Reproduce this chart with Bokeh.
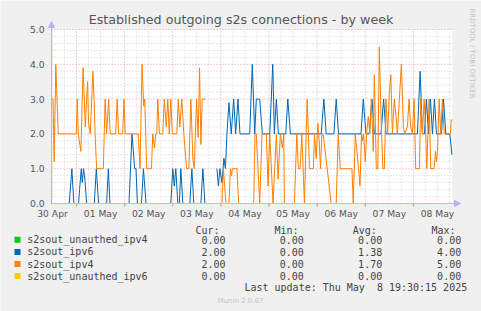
import math
from bokeh.plotting import figure
from bokeh.models import Range1d, Arrow, NormalHead
from bokeh.core.properties import value
from bokeh.embed import file_html
from bokeh.resources import INLINE

# ---------------- data ----------------
title_text = "Established outgoing s2s connections - by week"
series_names = ["s2sout_unauthed_ipv4", "s2sout_ipv6", "s2sout_ipv4", "s2sout_unauthed_ipv6"]
series_colors = ["#00CC00", "#0066B3", "#FF8000", "#FFCC00"]
cur_vals = [0.00, 2.00, 2.00, 0.00]
min_vals = [0.00, 0.00, 0.00, 0.00]
avg_vals = [0.00, 1.38, 1.70, 0.00]
max_vals = [0.00, 4.00, 5.00, 0.00]
stat_headers = ["Cur:", "Min:", "Avg:", "Max:"]
last_update = "Last update: Thu May \u00a08 19:30:15 2025"
side_text = "RRDTOOL / TOBI OETIKER"
footer_text = "Munin 2.0.67"

# time axis: hours since 30 Apr 00:00
x_start_h = 11.5
x_end_h = 211.5
y_min, y_max = 0, 5
day_label_hours = [12, 36, 60, 84, 108, 132, 156, 180, 204]
day_labels = ["30 Apr", "01 May", "02 May", "03 May", "04 May", "05 May", "06 May", "07 May", "08 May"]
y_ticks = [0, 1, 2, 3, 4, 5]
y_tick_labels = ["0.0", "1.0", "2.0", "3.0", "4.0", "5.0"]

NaN = float("nan")

ipv4_hours = [11.5, 12.25, 12.85, 13.65, 14.85, 23.85, 24.35, 24.85, 26.15, 27.25, 27.85, 28.35, 29.0, 29.5,
              30.0, 30.85, 32.15, 32.75, 33.25, 34.0, 37.35, 38.25, 39.0, 40.0, 40.75, 43.5, 44.25, 45.0,
              47.0, 47.65, 48.25, 54.75, 55.65, 56.65, 57.5, 58.0, 59.0, 61.35, 62.0, 62.85, 63.5, 64.0,
              64.5, 65.35, 67.0, 67.75, 68.75, 69.5, 70.25, 71.0, 71.75, 74.0, 74.75, 75.5, 76.5, 77.5,
              78.85, 80.0, 81.0, 82.0, 82.65, 83.85, 84.65, 85.35, 86.0, 86.65, 88.35, 91.0,
              94.0, 96.5, 97.25, 97.75, 98.5, 100.0, 100.75, 101.25, 101.75, 104.0, 104.85, 112.35, 113.0,
              113.65, 115.35, 116.5, 118.65, 119.5, 120.35, 122.0, 123.65, 124.5, 125.65, 126.65, 127.35,
              127.65, 132.65, 133.85, 134.65, 135.5, 136.35, 137.65, 139.0, 139.65, 140.15, 142.15, 142.65,
              143.5, 144.35, 145.0, 145.65, 146.35, 147.0, 151.0, 153.5, 154.5, 155.5, 161.35, 162.0, 163.0,
              163.85, 164.65, 165.35, 166.15, 166.65, 167.15, 168.0, 168.65, 169.5, 170.25, 171.0, 172.0,
              172.5, 173.5, 174.25, 175.0, 175.85, 176.75, 177.5, 178.35, 179.15, 180.0, 180.75, 181.5,
              182.5, 183.35, 184.0, 185.0, 186.0, 187.0, 187.65, 189.0, 189.85, 190.65, 191.5, 192.35,
              193.15, 195.0, 195.65, 196.5, 197.35, 198.0, 198.65, 199.85, 200.65, 202.35, 203.0, 203.5,
              204.0, 204.85, 205.65, 206.5, 207.35, 210.5, 210.85, 211.5]
ipv4_values = [3, 3, 1.2, 4, 2, 2, 3, 2, 1.5, 3.9, 3, 2.2, 3, 3.5,
               2.3, 2, 3.8, 3, 2, 1, 1, 3, 2, 3, 2, 2, 3, 2,
               2, 3, 2, 2, 1, 4, 2.8, 3, 1, 1, 2, 1.6, 2, 2,
               3, 2, 2, 3, 2.2, 3, 2, 3, 2, 2, 3, 2.2, 3, 2,
               1, 1, 3, 1.3, 1, 3, 1.9, 3.9, 1.7, 3, 3, NaN,
               0, 0, 1, 0.6, 0, 0, 1, 0.8, 1, 1, 0, 0, 2,
               2, 0, 2, 2, 0.5, 2, 0, 2, 0.7, 2, 1.6, 2,
               0, 0, 2, 1, 1, 2, 0, 3, 2, 1, 1, 2,
               1.3, 2.3, 1.8, 1, 2, 2, 0, 0, 2, 1, 1, 0, 2,
               1.5, 1, 0.5, 2, 1.8, 2, 1.2, 2, 2.5, 2, 3, 1.5,
               3.7, 1, 1, 4.5, 2.5, 1, 1, 3, 2, 3.2, 3.7, 2,
               3, 2.5, 2, 3, 4, 2.2, 2, 2.2, 3, 2.2, 2, 3,
               1, 1, 3, 2, 3, 2.3, 1, 3, 1, 1, 1.5, 1.2,
               1.5, 3, 2, 3, 2, 2, 2.4, 2.4]

ipv6_hours = [11.5, 20.35, 21.65, 22.65, 25.0, 25.5, 26.35, 26.85, 27.5, 28.15, 29.0, 32.85, 33.85, 35.0,
              39.0, 39.85, 40.65, 50.15, 51.65, 53.0, 53.65, 54.35, 56.35, 57.35, 58.65, 71.0, 72.0, 72.75,
              73.5, 74.5, 75.25, 76.0, 77.0, 80.5, 81.5, 82.5, 86.0, 87.0, 88.0, 91.0,
              94.0, 94.75, 95.5, 96.5, 97.5, 98.25, 99.0, 100.0, 101.15, 102.35, 103.35, 104.5, 105.5,
              110.35, 111.65, 112.85, 113.65, 115.35, 116.65, 120.35, 121.85, 122.65, 123.65, 124.65,
              128.35, 129.35, 130.65, 146.0, 147.35, 148.5, 152.35, 153.5, 154.65, 165.85, 167.0, 168.35,
              170.0, 171.35, 172.5, 175.85, 177.15, 178.35, 194.0, 195.35, 196.5, 197.5, 198.5, 199.5,
              200.5, 201.5, 202.5, 203.5, 206.0, 207.0, 208.15, 210.15, 211.25]
ipv6_values = [0, 0, 1, 0, 0, 0.4, 1, 0.6, 1, 0.7, 0, 0, 1, 0,
               0, 1, 0, 0, 2, 1, 1, 0, 0, 1, 0, 0, 1, 0.5,
               1, 0, 0, 1, 0, 0, 1, 0, 0, 1, 0, NaN,
               1, 0.5, 1, 0.6, 1.3, 1, 2, 2.9, 2, 3, 2, 3, 2,
               2, 4, 2, 3, 3, 2, 2, 4, 2, 3, 2,
               2, 3, 2, 2, 3, 2, 2, 3, 2, 2, 3, 2,
               2, 3, 2, 2, 3, 2, 2, 3.8, 2, 2, 3, 2,
               3, 2, 3, 2, 2, 3, 2, 2, 1.4]

unauthed_hours = [11.5, 211.5]
unauthed_ipv4_values = [0, 0]
unauthed_ipv6_values = [0, 0]

# ---------------- layout geometry (canvas pixels) ----------------
W, H = 481, 311
PLOT_L, PLOT_R, PLOT_T, PLOT_B = 51, 452, 29, 203
px_per_h = (PLOT_R - PLOT_L) / (x_end_h - x_start_h)
px_per_unit = (PLOT_B - PLOT_T) / (y_max - y_min)


def hx(X):
    """canvas x pixel -> data x"""
    return x_start_h + (X - PLOT_L) / px_per_h


def vy(Y):
    """canvas y pixel (from top) -> data y"""
    return y_min + (PLOT_B - Y) / px_per_unit


p = figure(width=W, height=H, output_backend="svg", toolbar_location=None,
           x_range=Range1d(hx(0), hx(W)), y_range=Range1d(vy(H), vy(0)),
           x_axis_location=None, y_axis_location=None, min_border=0)
p.background_fill_color = "#F0F0F0"
p.border_fill_color = "#F0F0F0"
p.outline_line_color = None
p.grid.visible = False

axis_color = "#B4B4F0"
text_color = "#555555"
legend_color = "#444444"
major_grid = "#E4A0A0"
minor_grid = "#D2D2D2"

# plot area
p.quad(left=[x_start_h], right=[x_end_h], bottom=[y_min], top=[y_max], fill_color="white", line_color=None)

# grid
midnights = [24 * k for k in range(1, 9)]
six_hours = [h for h in range(12, 212, 6) if h % 24 != 0]
y_minor = [round(0.2 * k, 1) for k in range(1, 25) if k % 5 != 0]
y_major = [1, 2, 3, 4, 5]
p.segment(x0=six_hours, x1=six_hours, y0=[y_min] * len(six_hours), y1=[y_max] * len(six_hours),
          line_color=minor_grid, line_dash="1 2", line_width=1)
p.segment(x0=[x_start_h] * len(y_minor), x1=[x_end_h] * len(y_minor), y0=y_minor, y1=y_minor,
          line_color=minor_grid, line_dash="1 2", line_width=1)
p.segment(x0=midnights, x1=midnights, y0=[y_min] * len(midnights), y1=[y_max] * len(midnights),
          line_color=major_grid, line_dash="1 2", line_width=1)
p.segment(x0=[x_start_h] * len(y_major), x1=[x_end_h] * len(y_major), y0=y_major, y1=y_major,
          line_color=major_grid, line_dash="1 2", line_width=1)

# axes lines and arrows
p.segment(x0=[x_start_h, x_start_h], x1=[x_start_h, x_end_h], y0=[y_min, y_min], y1=[y_max, y_min],
          line_color=axis_color, line_width=1)
p.add_layout(Arrow(end=NormalHead(size=6, fill_color=axis_color, line_color=axis_color),
                   x_start=x_start_h, y_start=y_max, x_end=x_start_h, y_end=vy(PLOT_T - 8),
                   line_color=axis_color, line_width=1))
p.add_layout(Arrow(end=NormalHead(size=6, fill_color=axis_color, line_color=axis_color),
                   x_start=x_end_h, y_start=y_min, x_end=hx(PLOT_R + 8), y_end=y_min,
                   line_color=axis_color, line_width=1))
# small red day ticks below the axis
p.segment(x0=midnights, x1=midnights, y0=[y_min] * len(midnights), y1=[vy(PLOT_B + 3)] * len(midnights),
          line_color="#E08080", line_width=1)

# tick labels
p.text(x=day_label_hours, y=[y_min] * len(day_labels), text=day_labels, y_offset=10,
       text_align="center", text_baseline="middle", text_color=text_color,
       text_font=value("DejaVu Sans"), text_font_size="9.2px")
p.text(x=[x_start_h] * len(y_ticks), y=y_ticks, text=y_tick_labels, x_offset=-7,
       text_align="right", text_baseline="middle", text_color=text_color,
       text_font=value("DejaVu Sans"), text_font_size="9.2px")

# series lines (munin drawing order)
p.line(unauthed_hours, unauthed_ipv4_values, line_color=series_colors[0], line_width=1)
p.line(ipv6_hours, ipv6_values, line_color=series_colors[1], line_width=1)
p.line(ipv4_hours, ipv4_values, line_color=series_colors[2], line_width=1)
p.line(unauthed_hours, unauthed_ipv6_values, line_color=series_colors[3], line_width=1)


def add_text(X, Y, text, size, font="DejaVu Sans", color=text_color, align="left", angle=0.0):
    p.text(x=[hx(X)], y=[vy(Y)], text=[text], text_font=value(font), text_font_size=size,
           text_color=color, text_align=align, text_baseline="middle", angle=angle)


add_text(240.5, 19, title_text, "12.7px", align="center")
add_text(471, 53, side_text, "7px", color="#C4C4C4", align="center", angle=-math.pi / 2)

mono = "DejaVu Sans Mono"
col_header_x = [195, 274, 352.3, 431]
col_value_x = [225, 303.3, 381.7, 460.7]
header_y = 229.5
for X, h in zip(col_header_x, stat_headers):
    add_text(X, header_y, h, "10px", font=mono, color=legend_color)

row_y = [239.3, 251.4, 263.5, 275.6]
p.scatter(x=[hx(17)] * len(series_names), y=[vy(y) for y in row_y], marker="square", size=6,
          fill_color=series_colors, line_color=None)
for i, name in enumerate(series_names):
    y = row_y[i]
    add_text(26.7, y, name, "10px", font=mono, color=legend_color)
    for X, vals in zip(col_value_x, [cur_vals, min_vals, avg_vals, max_vals]):
        add_text(X, y, "%.2f" % vals[i], "10px", font=mono, color=legend_color, align="right")

add_text(466.7, 287.3, last_update, "10px", font=mono, color=legend_color, align="right")
add_text(240, 300, footer_text, "7px", color="#C4C4C4", align="center")

open("out.html", "w").write(file_html(p, INLINE))
